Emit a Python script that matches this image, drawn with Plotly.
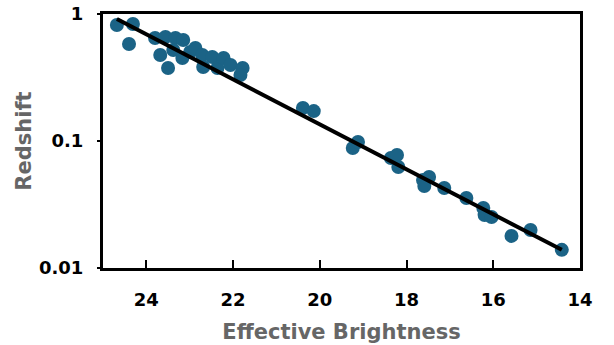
import plotly.graph_objects as go

# Data
brightness = [24.68, 24.31, 24.40, 23.80, 23.56, 23.33, 23.15, 23.68, 23.50, 23.38,
              23.17, 22.99, 22.87, 22.71, 22.48, 22.69, 22.36, 22.22, 22.06, 21.78,
              21.83, 20.39, 20.14, 19.24, 19.12, 18.36, 18.22, 18.19, 17.62, 17.48,
              17.59, 17.13, 16.62, 16.23, 16.20, 16.04, 15.58, 15.14, 14.42]
redshift = [0.819, 0.834, 0.580, 0.647, 0.659, 0.647, 0.624, 0.475, 0.376, 0.521,
            0.450, 0.502, 0.540, 0.475, 0.458, 0.383, 0.376, 0.450, 0.397, 0.376,
            0.331, 0.182, 0.172, 0.0881, 0.0982, 0.0735, 0.0776, 0.0624, 0.0493, 0.0521,
            0.0442, 0.0427, 0.0356, 0.0297, 0.0261, 0.0252, 0.0179, 0.0199, 0.0139]

# Trend line end points
fit_x = [24.68, 14.42]
fit_y = [0.913, 0.0139]

x_ticks = [24, 22, 20, 18, 16, 14]
y_ticks = [0.01, 0.1, 1]
y_ticktext = ["0.01", "0.1", "1"]

FONT = "DejaVu Sans, Liberation Sans, sans-serif"

fig = go.Figure()
fig.add_trace(go.Scatter(x=brightness, y=redshift, mode="markers",
                         marker=dict(color="#1b6386", size=14, line=dict(width=0)),
                         showlegend=False))
fig.add_trace(go.Scatter(x=fit_x, y=fit_y, mode="lines",
                         line=dict(color="black", width=4), showlegend=False))

fig.update_layout(
    width=614, height=345,
    margin=dict(l=103, r=34, t=14, b=77, autoexpand=False),
    plot_bgcolor="white", paper_bgcolor="white",
    font=dict(family=FONT),
)
fig.update_xaxes(
    range=[25, 14], tickvals=x_ticks, ticks="inside", ticklen=8, tickwidth=2,
    tickcolor="black", showline=True, linecolor="black", linewidth=3, mirror=True,
    showgrid=False, zeroline=False, ticklabelstandoff=13, automargin=False,
    tickfont=dict(family=FONT, size=18, color="black", weight="bold"),
    title=dict(text="Effective Brightness", standoff=16,
               font=dict(family=FONT, size=21, color="#666666", weight="bold")),
)
fig.update_yaxes(
    type="log", range=[-2, 0], tickvals=y_ticks, ticktext=y_ticktext,
    ticks="outside", ticklen=3, tickwidth=2, tickcolor="black",
    showline=True, linecolor="black", linewidth=3, mirror=True,
    showgrid=False, zeroline=False, ticklabelstandoff=10, automargin=False,
    tickfont=dict(family=FONT, size=18, color="black", weight="bold"),
    title=dict(text="Redshift", standoff=2,
               font=dict(family=FONT, size=21, color="#666666", weight="bold")),
)

fig.write_html("out.html", config={"displayModeBar": False},
               post_script="document.body.style.margin='0';")
